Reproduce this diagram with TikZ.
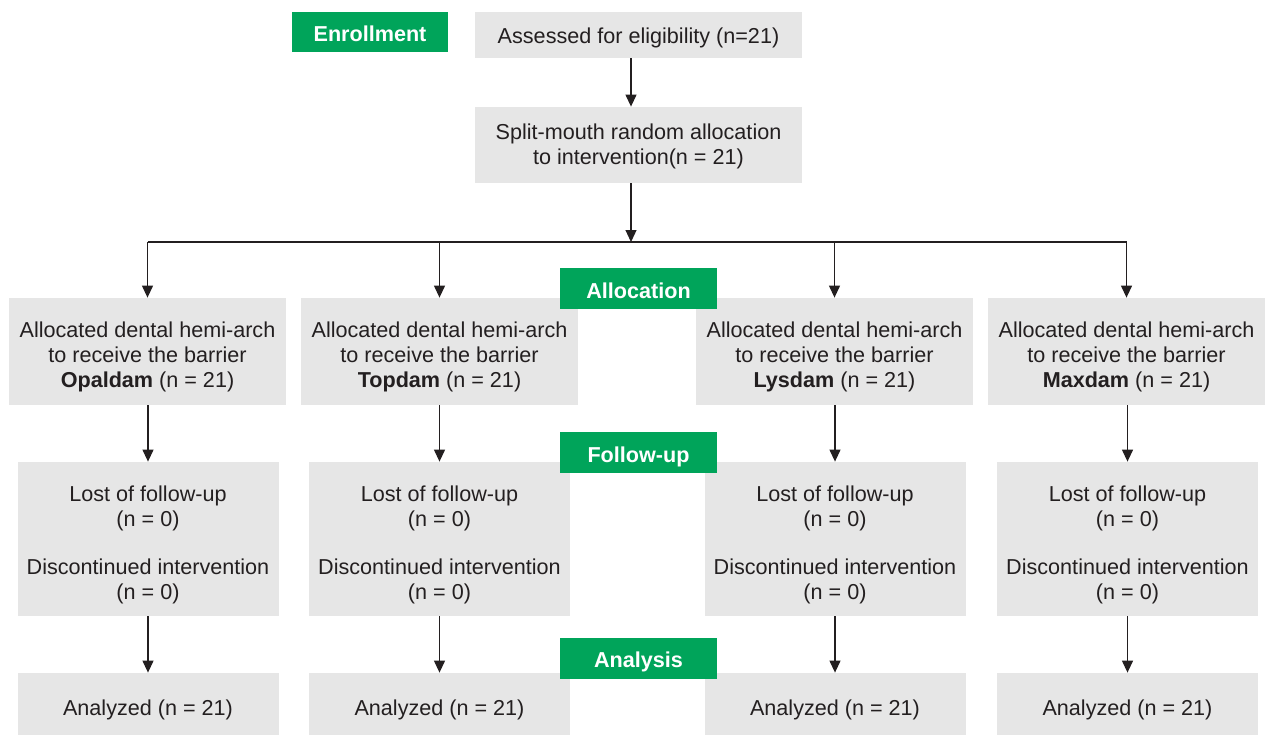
\documentclass[tikz,border=0pt]{standalone}
\usepackage{fontspec}
\setmainfont{Liberation Sans}
\usetikzlibrary{arrows.meta}
\definecolor{boxgrey}{HTML}{E6E6E6}
\definecolor{labgreen}{HTML}{00A45A}
\definecolor{txtgrey}{HTML}{231F20}

\begin{document}
\begin{tikzpicture}[x=0.5pt, y=-0.5pt,
  box/.style={rectangle, fill=boxgrey, text=txtgrey, align=center, inner sep=0pt,
    text depth=0pt, font=\fontsize{10.8}{12.4}\selectfont},
  stage/.style={rectangle, fill=labgreen, text=white, inner sep=0pt,
    minimum width=78.5pt, minimum height=20.5pt, text height=9.8pt, text depth=0pt,
    font=\fontsize{10.8}{12.4}\selectfont\bfseries},
  arr/.style={-{Triangle[length=6pt,width=5.5pt]}, line width=0.6pt, draw=txtgrey}]
  \useasboundingbox (0,0) rectangle (1269,734);

  % enrollment
  \node (enroll) [stage, minimum width=78pt, minimum height=20pt] at (370,32) {Enrollment};
  \node (assess) [box, minimum width=163.5pt, minimum height=23pt, text height=8.7pt] at (638.5,35) {Assessed for eligibility (n=21)};
  \node (split) [box, minimum width=163.5pt, minimum height=38pt, text height=19.7pt] at (638.5,145) {Split-mouth random allocation\\to intervention(n = 21)};
  \coordinate (br) at (631,242);

  % allocation
  \node (a1) [box, minimum width=138.5pt, minimum height=53.5pt, text height=36pt] at (147.5,351.5) {Allocated dental hemi-arch\\to receive the barrier\\\textbf{Opaldam} (n = 21)};
  \node (a2) [box, minimum width=138.5pt, minimum height=53.5pt, text height=36pt] at (439.5,351.5) {Allocated dental hemi-arch\\to receive the barrier\\\textbf{Topdam} (n = 21)};
  \node (a3) [box, minimum width=138.5pt, minimum height=53.5pt, text height=36pt] at (834.5,351.5) {Allocated dental hemi-arch\\to receive the barrier\\\textbf{Lysdam} (n = 21)};
  \node (a4) [box, minimum width=138.5pt, minimum height=53.5pt, text height=36pt] at (1126.5,351.5) {Allocated dental hemi-arch\\to receive the barrier\\\textbf{Maxdam} (n = 21)};

  % follow-up and analysis
  \foreach \i/\x in {1/148,2/439.5,3/835,4/1127.5} {
    \node (f\i) [box, minimum width=130.5pt, minimum height=77pt, text height=60.7pt] at (\x,539) {Lost of follow-up\\(n = 0)\\[12pt]Discontinued intervention\\(n = 0)};
    \node (n\i) [box, minimum width=130.5pt, minimum height=35pt, text height=7.7pt] at (\x,708) {Analyzed (n = 21)};
  }

  \draw[arr] (assess.south -| br) -- (split.north -| br);
  \draw[arr] (split.south -| br) -- (br);
  \draw[line width=0.6pt, txtgrey] (a1.north |- br) -- (a4.north |- br);
  \foreach \i in {1,...,4} {
    \draw[arr] (a\i.north |- br) -- (a\i.north);
    \draw[arr] (f\i.north |- a\i.south) -- (f\i.north);
    \draw[arr] (f\i.south) -- (n\i.north);
  }

  % stage labels
  \node (alloc) [stage] at (638.5,288.5) {Allocation};
  \node (follow) [stage] at (638.5,452.5) {Follow-up};
  \node (analysis) [stage] at (638.5,658) {Analysis};
\end{tikzpicture}
\end{document}
